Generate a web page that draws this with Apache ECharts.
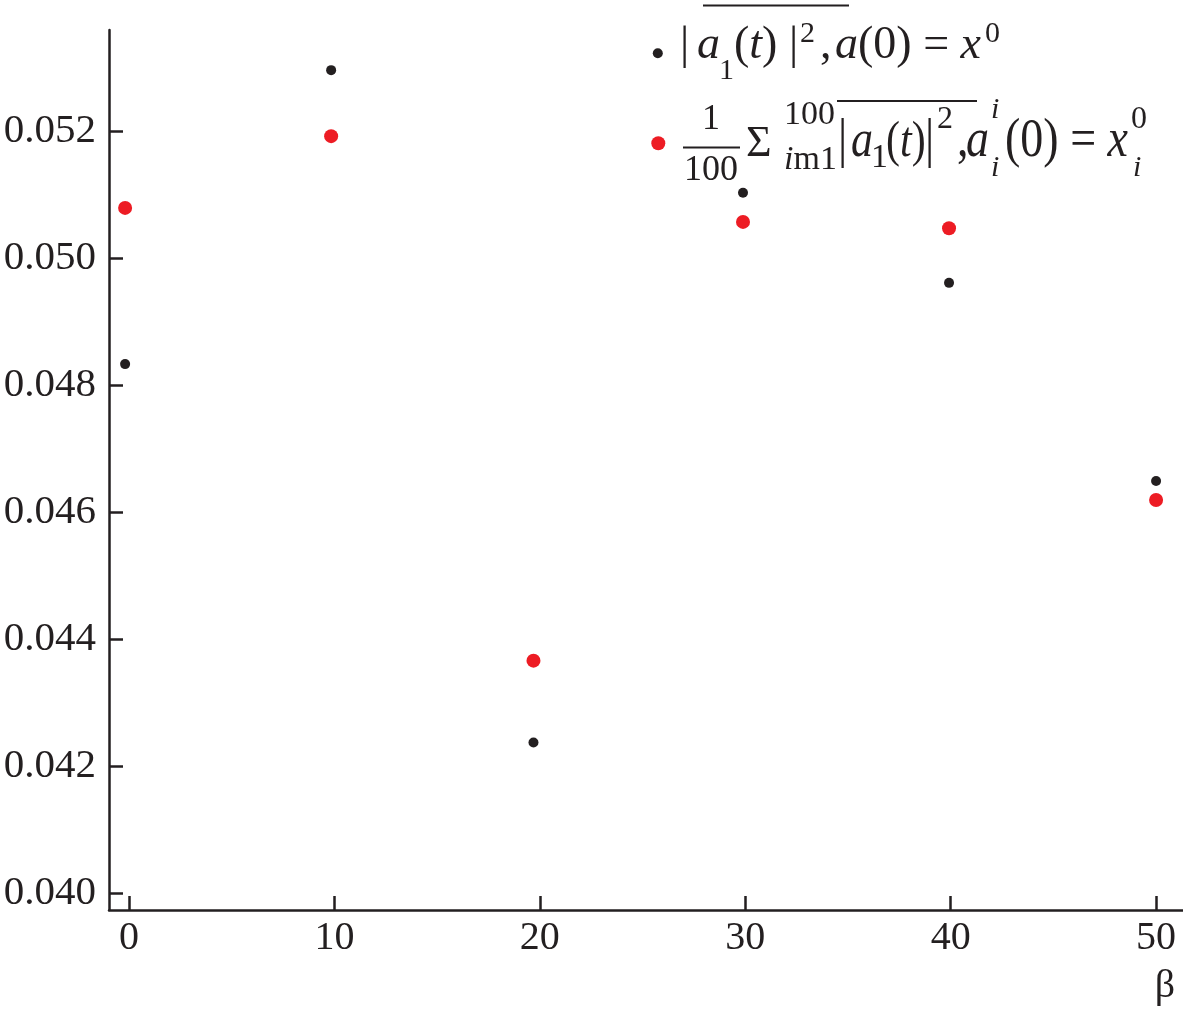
<!DOCTYPE html>
<html>
<head>
<meta charset="utf-8">
<script src="https://cdn.jsdelivr.net/npm/echarts@6/dist/echarts.min.js"></script>
<style>
html,body{margin:0;padding:0;background:#fff;}
#chart{width:1183px;height:1009px;}
</style>
</head>
<body>
<div id="chart"></div>
<script>
// ---- data ----
const xTickValues = [0, 10, 20, 30, 40, 50];
const yTickValues = [0.040, 0.042, 0.044, 0.046, 0.048, 0.050, 0.052];
const betaValues = [-0.19, 9.84, 19.69, 29.89, 39.92, 50.0];
const singleValues = [0.04834, 0.05297, 0.04238, 0.05104, 0.04962, 0.04650];
const averageValues = [0.05080, 0.05193, 0.04367, 0.05058, 0.05048, 0.04620];
const seriesNames = ['|a1(t)|², a(0) = x⁰', '1/100 Σ |a1(t)|², a_i(0) = x_i⁰'];
const xAxisName = 'β';

// ---- styling ----
const INK = '#231f20';
const RED = '#ed1c24';
const SERIF = '"Liberation Serif", "Times New Roman", serif';

function pairs(xs, ys) { return xs.map((x, i) => [x, ys[i]]); }

// text piece helper: x = left, base = baseline y
function T(text, x, base, F, opts) {
  opts = opts || {};
  const sy = opts.sy || 1;
  return {
    type: 'text',
    x: x,
    y: base - 0.34 * F * sy,
    scaleY: sy,
    silent: true,
    style: {
      text: text,
      fill: INK,
      font: (opts.italic ? 'italic ' : '') + F + 'px ' + SERIF,
      align: opts.align || 'left',
      verticalAlign: 'middle',
      rich: {
        i: { fontStyle: 'italic', fontSize: F, fontFamily: SERIF, fill: INK }
      }
    }
  };
}
function L(x1, x2, y) {
  return { type: 'line', silent: true, shape: { x1: x1, y1: y, x2: x2, y2: y },
           style: { stroke: INK, lineWidth: 2 } };
}

const S2 = 1.2;
const legendText = [
  // line 1
  T('|', 680, 62, 46),
  T('{i|a}', 697, 62, 46),
  T('1', 719, 81, 30),
  T('({i|t})', 734, 62, 46),
  T('|', 789, 62, 46),
  T('2', 800, 44, 30),
  T(',', 820, 62, 46),
  T('{i|a}(0) = {i|x}', 835, 62, 46),
  T('0', 985, 44, 30),
  L(703, 849, 5.5),
  // line 2
  T('1', 711, 132, 36, { align: 'center' }),
  L(683, 740, 147.5),
  T('100', 711, 183, 36, { align: 'center' }),
  T('Σ', 746, 159, 44),
  T('100', 784, 127, 34),
  T('{i|i}m1', 784, 172, 34),
  T('|', 838, 160, 46, { sy: S2 }),
  T('{i|a}', 851, 160, 44, { sy: S2 }),
  T('1', 871, 170, 34),
  T('({i|t})', 886, 160, 42, { sy: S2 }),
  T('|', 925, 160, 46, { sy: S2 }),
  T('2', 937, 130, 32),
  T(',', 957, 160, 46, { sy: S2 }),
  T('{i|a}', 966, 160, 46, { sy: S2 }),
  T('i', 991, 120, 30, { italic: true }),
  T('i', 991, 178, 30, { italic: true }),
  T('(0) = {i|x}', 1005, 160, 46, { sy: S2 }),
  T('0', 1131, 130, 32),
  T('i', 1133, 178, 30, { italic: true }),
  L(837, 977, 101)
];

const chart = echarts.init(document.getElementById('chart'), null, { renderer: 'canvas' });
chart.setOption({
  animation: false,
  backgroundColor: '#ffffff',
  grid: { left: 109, right: 0, top: 30, bottom: 99, containLabel: false },
  legend: [
    {
      data: [seriesNames[0]], left: 652.8, top: 48.3, padding: 0,
      icon: 'circle', itemWidth: 10, itemHeight: 10, selectedMode: false,
      itemStyle: { opacity: 1 },
      formatter: () => '', textStyle: { fontSize: 1 }
    },
    {
      data: [seriesNames[1]], left: 651.3, top: 136.3, padding: 0,
      icon: 'circle', itemWidth: 14, itemHeight: 14, selectedMode: false,
      itemStyle: { opacity: 1 },
      formatter: () => '', textStyle: { fontSize: 1 }
    }
  ],
  xAxis: {
    type: 'value',
    min: -0.974,
    max: 51.31,
    name: xAxisName,
    nameLocation: 'end',
    nameGap: -18,
    nameTextStyle: {
      fontFamily: SERIF, fontSize: 40, color: INK,
      align: 'center', verticalAlign: 'top', padding: [56, 0, 0, 0]
    },
    axisLine: { show: true, onZero: false, lineStyle: { color: INK, width: 2.5 } },
    axisTick: { show: true, inside: true, length: 14, customValues: xTickValues,
                lineStyle: { color: INK, width: 2.5 } },
    axisLabel: { customValues: xTickValues, fontFamily: SERIF, fontSize: 40, color: INK, margin: 8 },
    splitLine: { show: false }
  },
  yAxis: {
    type: 'value',
    min: 0.039743,
    max: 0.053602,
    axisLine: { show: true, onZero: false, lineStyle: { color: INK, width: 2.5 } },
    axisTick: { show: true, inside: true, length: 14, customValues: yTickValues,
                lineStyle: { color: INK, width: 2.5 } },
    axisLabel: { customValues: yTickValues, fontFamily: SERIF, fontSize: 41, color: INK, margin: 13,
                 formatter: v => Number(v).toFixed(3) },
    splitLine: { show: false }
  },
  series: [
    {
      name: seriesNames[0], type: 'scatter', symbol: 'circle', symbolSize: 10,
      itemStyle: { color: INK, opacity: 1 }, data: pairs(betaValues, singleValues), z: 3
    },
    {
      name: seriesNames[1], type: 'scatter', symbol: 'circle', symbolSize: 14,
      itemStyle: { color: RED, opacity: 1 }, data: pairs(betaValues, averageValues), z: 2
    }
  ],
  graphic: legendText
});
</script>
</body>
</html>
